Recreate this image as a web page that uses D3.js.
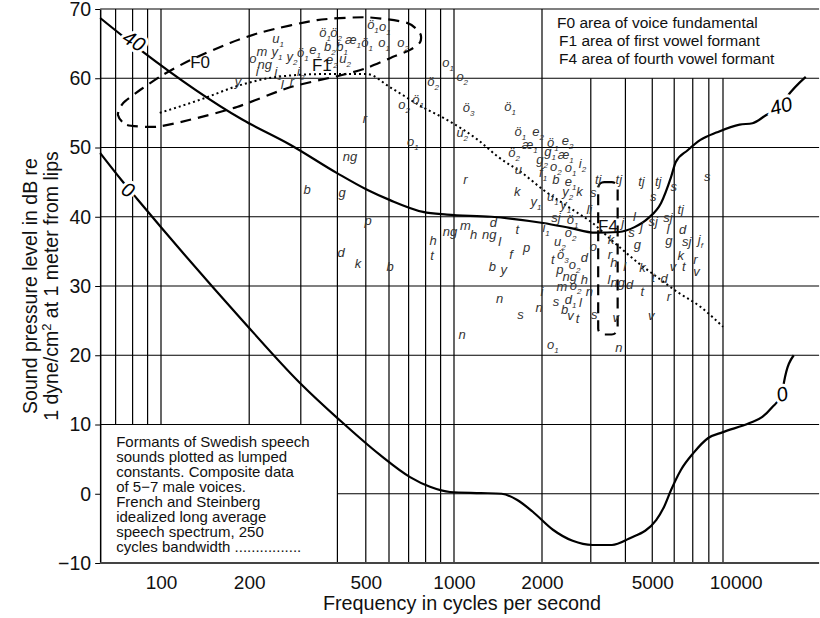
<!doctype html>
<html>
<head>
<meta charset="UTF-8">
<title>Formants of Swedish speech sounds</title>
<script src="https://cdn.jsdelivr.net/npm/d3@7"></script>
<style>
  body { margin: 0; background: #fff; }
  text { font-family: "Liberation Sans", Arial, Helvetica, sans-serif; }
</style>
</head>
<body>
<div id="chart"></div>
<script>

var width = 820, height = 618;

// axis bounds
var freqMin = 62, freqMax = 20000;
var dbMin = -10, dbMax = 70;

var gridFreqs = [70, 80, 90, 100, 200, 300, 400, 500, 600, 700, 800, 900, 1000, 2000, 3000, 4000, 5000, 6000, 7000, 8000, 9000];
var gridDb = [60, 50, 40, 30, 20, 10, 0];
var dbTicks = [-10, 0, 10, 20, 30, 40, 50, 60, 70];
var freqTicks = [100, 200, 500, 1000, 2000, 5000, 10000];

// equal loudness style contours  [Hz, dB]
var contour40 = [[62,68.7],[85,64.1],[190,54.0],[276,50.4],[399,46.3],[505,43.9],[605,42.4],[784,40.7],[946,40.3],[1342,40.0],[2018,39.1],[2517,38.4],[3112,37.7],[3786,37.8],[4315,38.5],[4837,39.8],[5380,42.0],[5840,45.7],[6080,47.9],[6710,49.6],[7460,51.1],[8570,52.2],[10340,53.3],[11500,53.5],[12900,54.7],[14450,55.8],[15300,57.3],[17900,60.2]];
var contour0 = [[62,49.2],[73.6,45.2],[82.8,42.6],[189,25.1],[298,16.0],[408,10.6],[559,5.6],[708,2.4],[828,1.0],[969,0.25],[1236,0.1],[1456,0],[1646,-0.9],[1860,-2.6],[2190,-5.2],[2580,-6.8],[3040,-7.4],[3575,-7.4],[4110,-6.5],[5165,-3.8],[5512,-1.9],[5840,0.5],[6335,3.4],[7045,5.9],[7960,8.05],[9000,8.9],[11220,10.2],[12480,11.1],[13540,12.5],[14700,14.4],[14940,16.1],[16200,20.0]];

// French & Steinberg long average speech spectrum (dotted)
var speechSpectrum = [[99,55.0],[136,56.9],[186,59.0],[249,60.2],[357,60.6],[505,60.6],[605,58.7],[784,55.8],[946,54.0],[1207,51.1],[1420,48.6],[1714,46.3],[2018,43.9],[2517,41.3],[3040,39.1],[3665,36.2],[4461,33.3],[5081,31.6],[6182,29.1],[7460,27.0],[9000,24.1]];

// F0 / F1 area outline (dashed)
var f0Area = [[71.3,54.7],[76.6,53.25],[96.9,53.0],[125.6,54.0],[181.7,55.85],[275.6,58.7],[418,60.5],[505,61.5],[605,62.9],[708,64.1],[766,65.2],[766,66.5],[691,68.0],[505,68.8],[341,68.4],[223,66.7],[172,65.1],[125.6,62.6],[101.6,60.5],[84.8,58.3],[74.2,56.4]];

// F4 area (dashed box)  [Hz low, Hz high, dB low, dB high]
var f4Area = [3190, 3750, 23, 45];

var contourLabels = [[80.9,65.4,"40"],[14570,56.0,"40"],[77.2,43.9,"0"],[14700,14.4,"0"]];
var areaLabels = [[136,62.3,"F0"],[354,61.9,"F1"],[3461,38.7,"F4"]];

// speech sounds [Hz, dB, sound, subscript]
var sounds = [
  [251,65.7,"u","1"],[221,63.8,"m",""],[206,62.8,"o",""],[226,61.9,"ng",""],[249,63.8,"y","1"],
  [280,63.1,"y","2"],[305,63.6,"ö","1"],[336,64.1,"e","1"],[383,62.6,"e","2"],[425,62.8,"u","2"],
  [377,64.5,"b","2"],[415,64.5,"b","1"],[452,65.5,"æ","1"],[505,65.1,"ö","1"],[363,66.5,"ö","1"],
  [396,66.5,"ö","2"],[529,67.7,"ö","1"],[581,67.4,"o","1"],[577,65.1,"o","1"],[670,65.1,"o","2"],
  [183,59.5,"y",""],[213,60.9,"i",""],[251,60.9,"i","1"],[259,59.0,"l",""],[280,59.5,"r",""],
  [300,60.9,"i","2"],[497,54.1,"r",""],[848,59.5,"ö","2"],[675,56.1,"o","2"],[754,56.9,"ö","1"],
  [954,62.2,"o","1"],[1121,55.7,"ö","3"],[1067,60.2,"o","2"],[1555,55.8,"ö","1"],[1067,52.1,"u","2"],
  [1687,52.2,"ö","1"],[1938,52.2,"e","2"],[724,50.8,"o","1"],[1815,50.4,"æ","1"],[2190,50.6,"ö","1"],
  [2476,50.9,"e","2"],[1606,49.2,"ö","2"],[2138,49.4,"g","1"],[2436,48.9,"æ","1"],[2003,48.2,"g","2"],
  [2245,47.2,"o","2"],[2537,47.0,"o","1"],[2800,47.6,"i","2"],[1660,46.75,"u",""],[1094,45.3,"r",""],
  [2018,46.3,"f","1"],[2245,45.3,"b",""],[2537,45.0,"e","1"],[1646,43.6,"k",""],[2476,43.6,"y","2"],
  [2732,43.6,"k",""],[3062,43.4,"s",""],[3190,45.3,"tj",""],[2190,42.9,"u","1"],[1906,42.1,"y","1"],
  [2436,41.7,"y","1"],[2964,41.0,"li",""],[2245,39.8,"sj",""],[2580,39.5,"ö","1"],[2069,38.4,"i","1"],
  [2537,37.7,"o","2"],[1364,39.1,"d",""],[1646,38.1,"t",""],[1094,38.7,"m",""],[1168,37.4,"h",""],
  [969,37.8,"ng",""],[1320,37.4,"ng",""],[1433,36.4,"l",""],[848,36.5,"h",""],[3548,36.6,"k",""],
  [3786,45.3,"tj",""],[4568,45.0,"tj",""],[5250,45.0,"tj",""],[5980,44.3,"s",""],[5040,42.9,"s",""],
  [7900,45.7,"s",""],[3912,39.1,"j",""],[4315,40.0,"l",""],[4568,38.5,"j",""],[5040,39.2,"sj",""],
  [5695,39.8,"sj",""],[6335,41.0,"tj",""],[4210,37.7,"s",""],[4420,35.9,"g",""],[5695,38.1,"l",""],
  [5742,36.5,"g",""],[6440,38.1,"d",""],[6653,36.4,"sj",""],[7460,36.6,"j","f"],[841,34.3,"t",""],
  [605,32.7,"b",""],[1771,35.5,"p",""],[1567,34.5,"f",""],[1353,32.7,"b",""],[1480,32.3,"y",""],
  [2320,36.4,"u","2"],[2190,33.75,"t",""],[2377,34.5,"ö","3"],[2623,33.0,"o","2"],[2845,34.0,"d",""],
  [2320,32.3,"p",""],[2517,31.3,"ng",""],[2845,30.9,"h",""],[2358,29.9,"m",""],[2643,30.0,"o","2"],
  [2964,29.1,"n",""],[1433,28.1,"n",""],[1954,26.8,"n",""],[2245,27.7,"s",""],[2537,28.0,"d","1"],
  [2754,27.5,"l",""],[2416,26.5,"b",""],[2537,25.7,"v",""],[2687,25.2,"t",""],[1687,25.8,"s",""],
  [3087,25.8,"s",""],[1067,22.9,"n",""],[2190,21.5,"o","1"],[3786,21.0,"n",""],[3062,35.6,"o",""],
  [7160,33.75,"r",""],[6335,34.3,"k",""],[6492,32.7,"t",""],[5934,32.7,"v",""],[7220,32.0,"v",""],
  [3518,34.5,"r",""],[3636,33.3,"h",""],[3977,32.7,"l",""],[4607,32.6,"k",""],[5040,31.2,"t",""],
  [5512,31.0,"d",""],[3489,30.9,"l",""],[3755,30.4,"ng",""],[4142,30.1,"d",""],[4607,29.1,"t",""],
  [5742,28.4,"r",""],[4959,25.7,"v",""],[3695,25.4,"v",""],[442,48.6,"ng",""],[315,43.9,"b",""],
  [415,43.4,"g",""],[509,39.4,"p",""],[412,34.8,"d",""],[470,33.2,"k",""],[2000,29.1,"i",""]
];

var keyLines = ["F0 area of voice fundamental", "F1 area of first vowel formant", "F4 area of fourth vowel formant"];
var noteLines = ["Formants of Swedish speech", "sounds plotted as lumped", "constants. Composite data",
  "of 5\u22127 male voices.", "French and Steinberg", "idealized long average",
  "speech spectrum, 250", "cycles bandwidth ................"];
// note box spans up to this frequency and dB level, key box starts here
var noteBoxFreq = 400, noteBoxDb = 10, keyBoxFreq = 2000, keyBoxDb = 60;

var x = d3.scaleLog()
    .domain([100, 1000, 2000, 9000])
    .range([161, 454, 542, 723]);

var y = d3.scaleLinear()
    .domain([dbMin, dbMax])
    .range([563, 9]);

var svg = d3.select("#chart")
    .append("svg")
    .attr("width", width)
    .attr("height", height)

svg.append("rect").attr("width", width).attr("height", height).attr("fill", "#fff");

// grid
svg.selectAll(".vgrid")
    .data(gridFreqs)
    .enter()
    .append("line")
    .attr("x1", function (d) { return x(d); })
    .attr("x2", function (d) { return x(d); })
    .attr("y1", function (d) { return d > keyBoxFreq ? y(keyBoxDb) : y(dbMax); })
    .attr("y2", function (d) { return d < noteBoxFreq ? y(noteBoxDb) : y(dbMin); })
    .style("stroke", "#000")
    .style("stroke-width", 1.2)

svg.selectAll(".hgrid")
    .data(gridDb)
    .enter()
    .append("line")
    .attr("x1", function (d) { return d < noteBoxDb ? x(noteBoxFreq) : x(freqMin); })
    .attr("x2", x(freqMax))
    .attr("y1", function (d) { return y(d); })
    .attr("y2", function (d) { return y(d); })
    .style("stroke", "#000")
    .style("stroke-width", 1.2)

// top frame
svg.append("line")
    .attr("x1", x(freqMin)).attr("x2", x(freqMax))
    .attr("y1", y(dbMax)).attr("y2", y(dbMax))
    .style("stroke", "#000").style("stroke-width", 1.2)

// axes
var yAxis = svg.append("g")
    .attr("transform", "translate(" + x(freqMin) + ",0)")
    .call(d3.axisLeft(y).tickValues(dbTicks).tickSize(5).tickSizeOuter(0).tickPadding(4)
        .tickFormat(function (d) { return d < 0 ? "\u2212" + Math.abs(d) : d; }));
yAxis.selectAll("text").style("font-size", "19.5px").attr("fill", "#111");
yAxis.select(".domain").style("stroke-width", 1.5);

var xAxis = svg.append("g")
    .attr("transform", "translate(0," + y(dbMin) + ")")
    .call(d3.axisBottom(x).tickValues(freqTicks).tickSize(0).tickPadding(13).tickFormat(d3.format("d")));
xAxis.select(".domain").remove();
xAxis.selectAll("text").style("font-size", "19px").attr("fill", "#111");

svg.append("line")
    .attr("x1", x(freqMin)).attr("x2", x(freqMax))
    .attr("y1", y(dbMin)).attr("y2", y(dbMin))
    .style("stroke", "#444").style("stroke-width", 2.2)

svg.append("text")
    .text("Frequency in cycles per second")
    .attr("x", 462)
    .attr("y", 610)
    .style("text-anchor", "middle")
    .style("font-size", "19.8px")
    .attr("fill", "#111")

var yTitle = svg.append("text")
    .attr("transform", "translate(37," + (y(dbMin) + y(dbMax)) / 2 + ") rotate(-90)")
    .style("text-anchor", "middle")
    .style("font-size", "19.5px")
    .attr("fill", "#111")
yTitle.append("tspan").attr("x", 0).attr("y", 0).text("Sound pressure level in dB re");
var l2 = yTitle.append("tspan").attr("x", 0).attr("y", 21);
l2.append("tspan").text("1 dyne/cm");
l2.append("tspan").attr("dy", -7).style("font-size", "13px").text("2");
l2.append("tspan").attr("dy", 7).text(" at 1 meter from lips");

// key box text
svg.selectAll(".key")
    .data(keyLines)
    .enter()
    .append("text")
    .text(function (d) { return d; })
    .attr("x", function (d, i) { return x(keyBoxFreq) + (i === 0 ? 15 : 17); })
    .attr("y", function (d, i) { return y(dbMax) + 19 + i * 18; })
    .style("font-size", "15.5px")
    .attr("fill", "#111")

// note box text
svg.selectAll(".note")
    .data(noteLines)
    .enter()
    .append("text")
    .text(function (d) { return d; })
    .attr("x", x(freqMin) + 16)
    .attr("y", function (d, i) { return y(noteBoxDb) + 22 + i * 15; })
    .style("font-size", "15px")
    .attr("fill", "#111")

// curves
var line = d3.line()
    .x(function (d) { return x(d[0]); })
    .y(function (d) { return y(d[1]); })
    .curve(d3.curveMonotoneX);

[contour40, contour0].forEach(function (c) {
    svg.append("path")
        .datum(c)
        .attr("d", line)
        .style("fill", "none")
        .style("stroke", "#000")
        .style("stroke-width", 2.2)
});

svg.append("path")
    .datum(speechSpectrum)
    .attr("d", line)
    .style("fill", "none")
    .style("stroke", "#000")
    .style("stroke-width", 2)
    .style("stroke-dasharray", "2,3")

var areaLine = d3.line()
    .x(function (d) { return x(d[0]); })
    .y(function (d) { return y(d[1]); })
    .curve(d3.curveCardinalClosed.tension(0.3));

svg.append("path")
    .datum(f0Area)
    .attr("d", areaLine)
    .style("fill", "none")
    .style("stroke", "#000")
    .style("stroke-width", 2.2)
    .style("stroke-dasharray", "11,7")

svg.append("rect")
    .attr("x", x(f4Area[0]))
    .attr("y", y(f4Area[3]))
    .attr("width", x(f4Area[1]) - x(f4Area[0]))
    .attr("height", y(f4Area[2]) - y(f4Area[3]))
    .attr("rx", 6)
    .style("fill", "none")
    .style("stroke", "#000")
    .style("stroke-width", 2.2)
    .style("stroke-dasharray", "11,7")

// speech sound letters
var snd = svg.selectAll(".sound")
    .data(sounds)
    .enter()
    .append("text")
    .attr("x", function (d) { return x(d[0]); })
    .attr("y", function (d) { return y(d[1]) + 4; })
    .style("text-anchor", "middle")
    .style("font-style", "italic")
    .style("font-size", "13px")
    .attr("fill", "#333")
snd.append("tspan").text(function (d) { return d[2]; });
snd.filter(function (d) { return d[3] !== ""; })
    .append("tspan")
    .attr("dy", 4)
    .style("font-size", "8px")
    .text(function (d) { return d[3]; });

// area labels
svg.selectAll(".area")
    .data(areaLabels)
    .enter()
    .append("text")
    .text(function (d) { return d[2]; })
    .attr("x", function (d) { return x(d[0]); })
    .attr("y", function (d) { return y(d[1]) + 6; })
    .style("text-anchor", "middle")
    .style("font-size", "17px")
    .attr("fill", "#111")

// contour labels with white halo
svg.selectAll(".clabel")
    .data(contourLabels)
    .enter()
    .append("text")
    .text(function (d) { return d[2]; })
    .attr("transform", function (d, i) {
        var r = i % 2 === 0 ? 30 : -15;
        return "translate(" + x(d[0]) + "," + y(d[1]) + ") rotate(" + r + ")";
    })
    .attr("dy", "0.35em")
    .style("text-anchor", "middle")
    .style("font-style", "italic")
    .style("font-size", "20px")
    .attr("fill", "#000")
    .attr("stroke", "#fff")
    .attr("stroke-width", 6)
    .attr("paint-order", "stroke")

</script>
</body>
</html>
